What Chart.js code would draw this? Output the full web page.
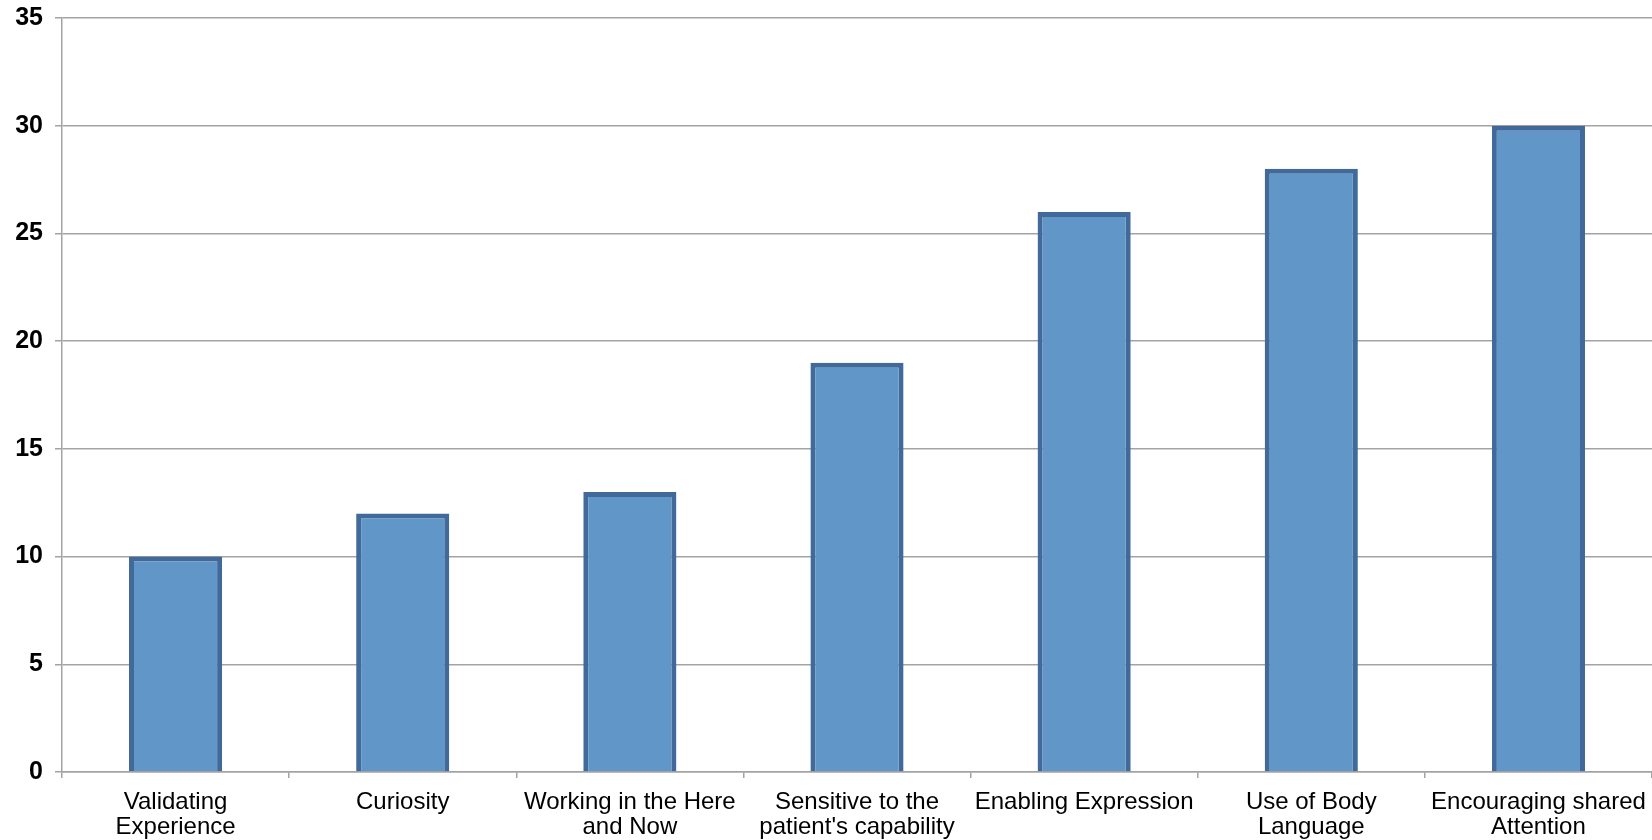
<!DOCTYPE html>
<html>
<head>
<meta charset="utf-8">
<script src="https://cdn.jsdelivr.net/npm/chart.js@4/dist/chart.umd.min.js"></script>
<style>
  html, body { margin: 0; padding: 0; background: #fff; }
  #wrap { width: 1652px; height: 840px; position: relative; }
</style>
</head>
<body>
<div id="wrap"><canvas id="chart"></canvas></div>
<script>
// ── Data ──────────────────────────────────────────────────────────────────────
const categories = [
  ['Validating', 'Experience'],
  'Curiosity',
  ['Working in the Here', 'and Now'],
  ['Sensitive to the', "patient's capability"],
  'Enabling Expression',
  ['Use of Body', 'Language'],
  ['Encouraging shared', 'Attention'],
];
const counts = [10, 12, 13, 19, 26, 28, 30];
const yTicks = [0, 5, 10, 15, 20, 25, 30, 35];

const FONT = '"Liberation Sans", Arial, sans-serif';
const GRID = '#a3a3a3';

new Chart(document.getElementById('chart'), {
  type: 'bar',
  data: {
    labels: categories,
    datasets: [{
      data: counts,
      backgroundColor: '#6196c9',
      borderColor: '#41699a',
      borderWidth: 5,
      barPercentage: 0.41,
      categoryPercentage: 1,
    }]
  },
  options: {
    responsive: true,
    maintainAspectRatio: false,
    animation: false,
    layout: { padding: { top: 18, right: 0, left: 0, bottom: 0 } },
    plugins: { legend: { display: false }, tooltip: { enabled: false } },
    scales: {
      x: {
        afterFit: s => { s.height = 68; s.paddingRight = 0; },
        border: { color: GRID, width: 1.5 },
        grid: { offset: true, drawOnChartArea: false, drawTicks: true, tickLength: 6, color: GRID, lineWidth: 1.5 },
        ticks: {
          color: '#000',
          padding: 12,
          maxRotation: 0,
          autoSkip: false,
          font: { family: FONT, size: 24, lineHeight: 1.05 },
        },
      },
      y: {
        min: yTicks[0],
        max: yTicks[yTicks.length - 1],
        // keep the top gridline close to the canvas edge like the original
        afterFit: s => { s.width = 62; s.paddingTop = 0; s.paddingBottom = 0; },
        afterBuildTicks: s => { s.ticks = yTicks.map(v => ({ value: v })); },
        border: { color: GRID, width: 1.5 },
        grid: { color: GRID, lineWidth: 1.5, tickLength: 7 },
        ticks: {
          color: '#000',
          padding: 12,
          font: { family: FONT, size: 25, weight: 'bold' },
        },
      },
    },
  },
});
</script>
</body>
</html>
